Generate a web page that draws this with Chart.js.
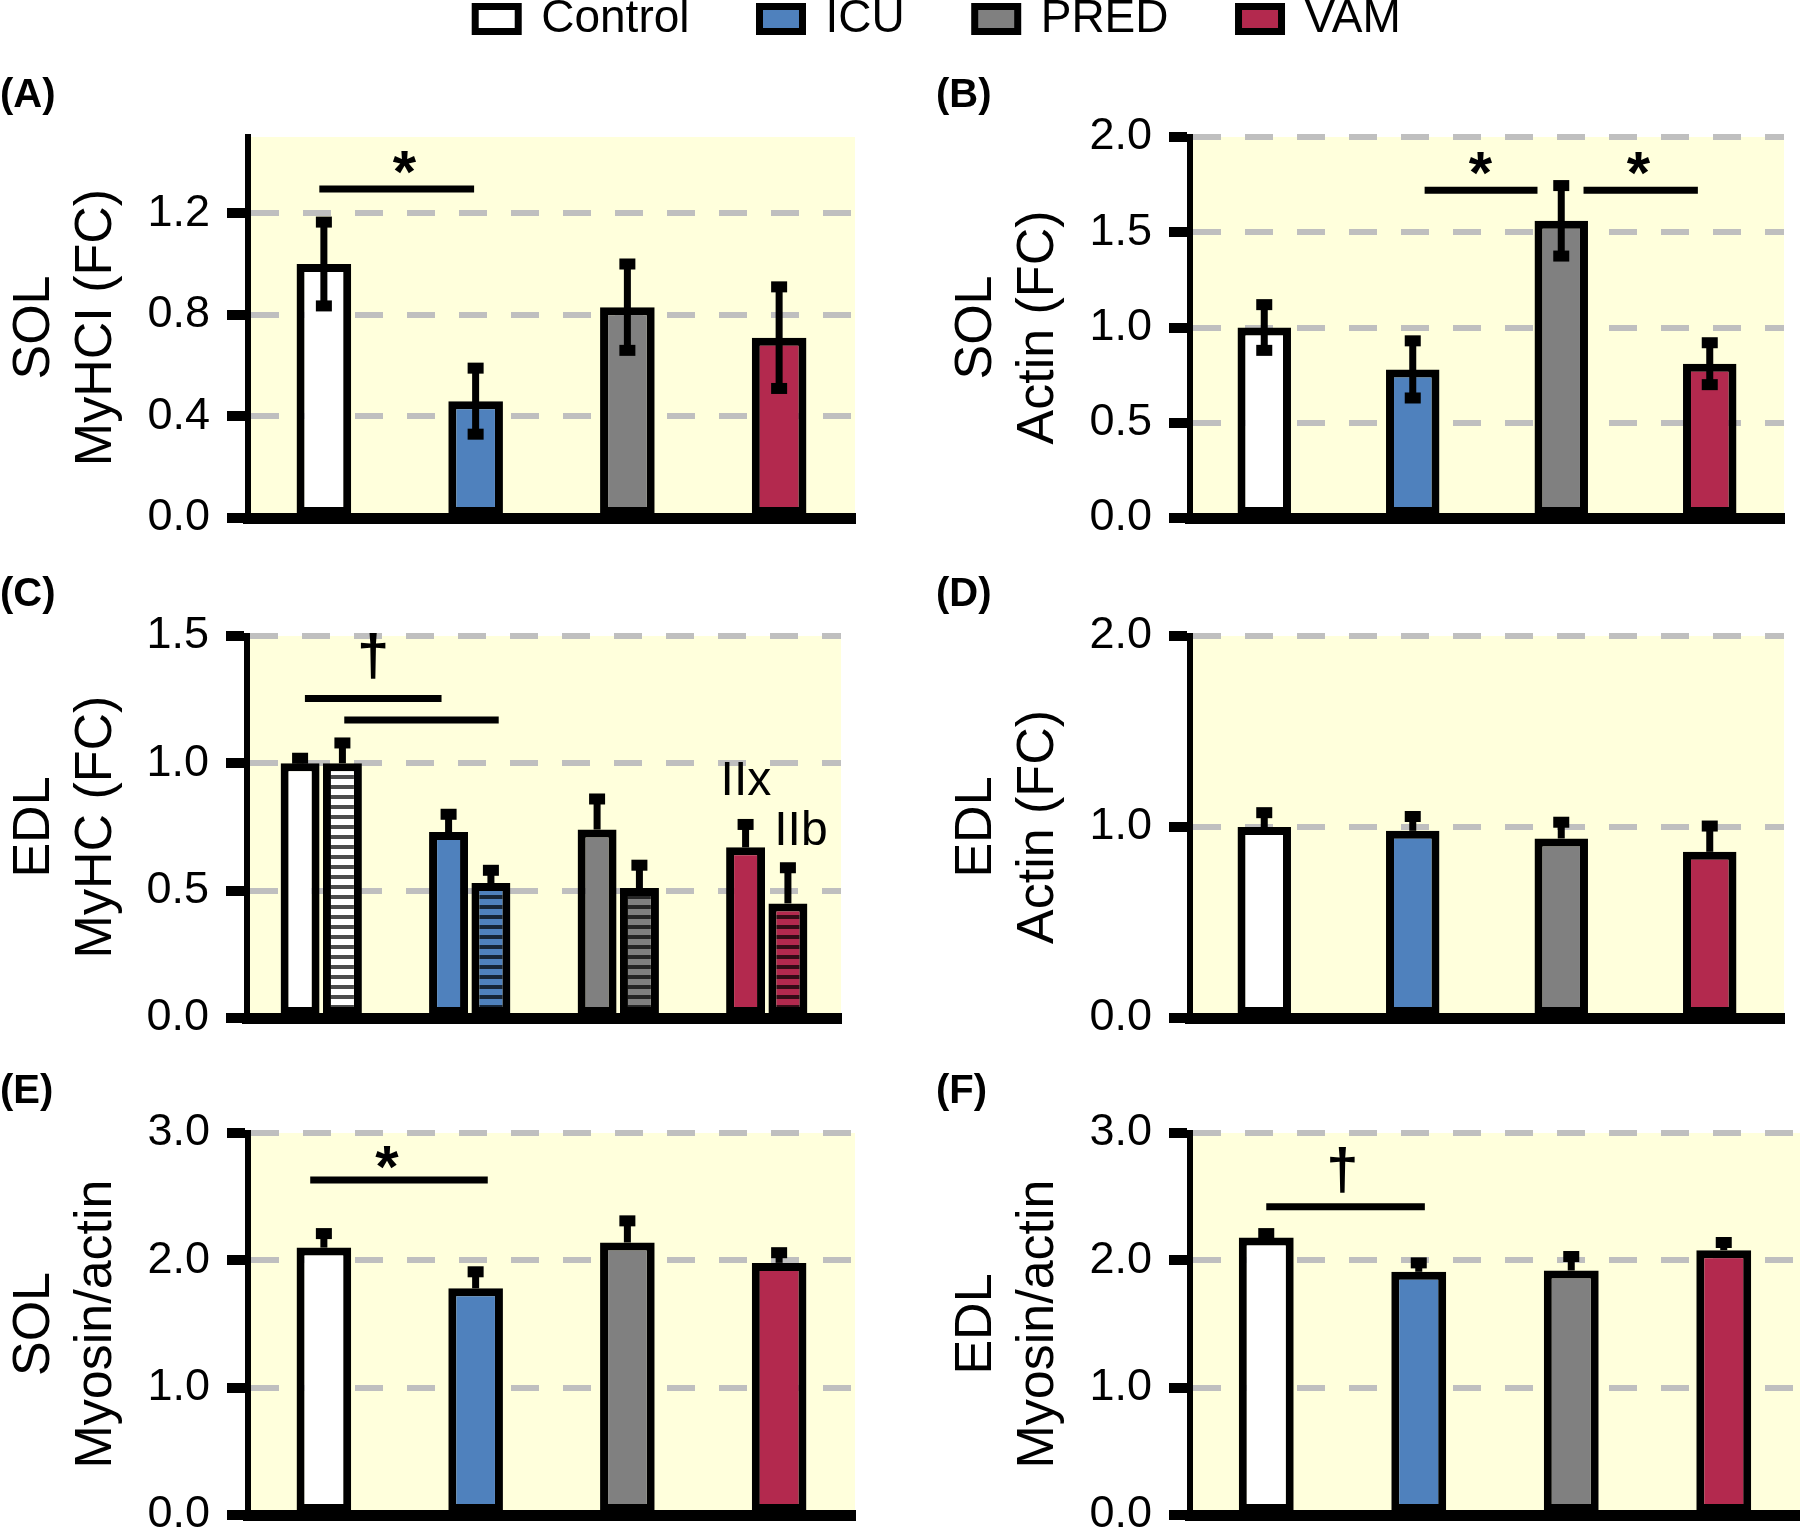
<!DOCTYPE html>
<html>
<head>
<meta charset="utf-8">
<script src="https://cdn.jsdelivr.net/npm/chart.js@4.4.1/dist/chart.umd.min.js"></script>
<style>
  html, body { margin: 0; padding: 0; background: #fff; }
  body { position: relative; width: 1800px; height: 1533px; overflow: hidden; }
  canvas { position: absolute; }
</style>
</head>
<body>
<canvas id="legend" width="1800" height="400" style="left:0;top:-74px"></canvas>
<canvas id="panelA" width="880" height="520" style="left:0;top:60px"></canvas>
<canvas id="panelB" width="864" height="520" style="left:936px;top:60px"></canvas>
<canvas id="panelC" width="880" height="520" style="left:0;top:559px"></canvas>
<canvas id="panelD" width="864" height="520" style="left:936px;top:559px"></canvas>
<canvas id="panelE" width="880" height="520" style="left:0;top:1056px"></canvas>
<canvas id="panelF" width="864" height="520" style="left:936px;top:1056px"></canvas>
<script>
Chart.defaults.font.family = '"Liberation Sans", Arial, sans-serif';
Chart.defaults.color = '#000';

const groups = ['Control', 'ICU', 'PRED', 'VAM'];
const groupColors = ['#FFFFFF', '#4F81BD', '#808080', '#B3294E'];

// (A) SOL MyHC I
const solMyhcMean = [1.00, 0.46, 0.83, 0.71];
const solMyhcErr = [0.165, 0.13, 0.17, 0.20];
const solMyhcTicks = [0, 0.4, 0.8, 1.2];
const solMyhcLines = [{from: -0.03, to: 0.99, at: 1.295}];
const solMyhcMarks = [{text: '*', x: 0.53, at: 1.40}];

// (B) SOL actin
const solActinMean = [1.00, 0.78, 1.56, 0.81];
const solActinErr = [0.12, 0.15, 0.185, 0.11];
const solActinTicks = [0, 0.5, 1.0, 1.5, 2.0];
const solActinLines = [{from: 1.08, to: 1.84, at: 1.72}, {from: 2.15, to: 2.92, at: 1.72}];
const solActinMarks = [{text: '*', x: 1.455, at: 1.86}, {text: '*', x: 2.52, at: 1.86}];

// (C) EDL MyHC IIx / IIb
const edlIIxMean = [1.00, 0.73, 0.74, 0.67];
const edlIIxErr = [0.02, 0.07, 0.12, 0.09];
const edlIIbMean = [1.00, 0.53, 0.51, 0.45];
const edlIIbErr = [0.08, 0.05, 0.09, 0.14];
const edlMyhcTicks = [0, 0.5, 1.0, 1.5];
const edlMyhcLines = [{from: -0.11, to: 0.81, at: 1.255}, {from: 0.155, to: 1.195, at: 1.17}];
const edlMyhcMarks = [{text: '†', x: 0.35, at: 1.42}, {text: 'IIx', x: 2.86, at: 0.94}, {text: 'IIb', x: 3.23, at: 0.75}];

// (D) EDL actin
const edlActinMean = [1.00, 0.98, 0.94, 0.87];
const edlActinErr = [0.075, 0.075, 0.085, 0.135];
const edlActinTicks = [0, 1.0, 2.0];

// (E) SOL myosin/actin
const solRatioMean = [2.10, 1.78, 2.14, 1.98];
const solRatioErr = [0.11, 0.13, 0.17, 0.08];
const ratioTicks = [0, 1.0, 2.0, 3.0];
const solRatioLines = [{from: -0.09, to: 1.08, at: 2.63}];
const solRatioMarks = [{text: '*', x: 0.415, at: 2.81}];

// (F) EDL myosin/actin
const edlRatioMean = [2.18, 1.91, 1.92, 2.08];
const edlRatioErr = [0.03, 0.07, 0.11, 0.06];
const edlRatioLines = [{from: 0.0, to: 1.04, at: 2.42}];
const edlRatioMarks = [{text: '†', x: 0.5, at: 2.71}];

// yellow plot area
const plotBackground = {
  id: 'plotBackground',
  beforeDraw(chart, args, opts) {
    const {ctx, chartArea: a} = chart;
    ctx.save();
    ctx.fillStyle = opts.color;
    ctx.fillRect(a.left, a.top, a.right - a.left, a.bottom - a.top);
    ctx.restore();
  }
};

const errorBars = {
  id: 'errorBars',
  afterDatasetsDraw(chart, args, opts) {
    const ctx = chart.ctx;
    const y = chart.scales.y;
    chart.data.datasets.forEach((ds, d) => {
      if (!ds.errorBars) return;
      chart.getDatasetMeta(d).data.forEach((bar, i) => {
        const v = ds.data[i];
        const e = ds.errorBars[i];
        const top = y.getPixelForValue(v + e);
        const bottom = y.getPixelForValue(opts.both ? v - e : v);
        ctx.save();
        ctx.fillStyle = '#000';
        ctx.fillRect(bar.x - 3.5, top, 7, bottom - top);
        ctx.fillRect(bar.x - 8, top - 5.5, 16, 11);
        if (opts.both) ctx.fillRect(bar.x - 8, bottom - 5.5, 16, 11);
        ctx.restore();
      });
    });
  }
};

const markFonts = {
  '*': 'bold 60px "Liberation Sans", Arial, sans-serif',
  '†': 'bold 58px "Liberation Sans", Arial, sans-serif'
};

const sigMarks = {
  id: 'sigMarks',
  afterDatasetsDraw(chart, args, opts) {
    const {ctx, scales: {x, y}} = chart;
    ctx.save();
    ctx.strokeStyle = '#000';
    ctx.fillStyle = '#000';
    ctx.lineWidth = 7;
    (opts.lines || []).forEach(l => {
      const py = y.getPixelForValue(l.at);
      ctx.beginPath();
      ctx.moveTo(x.getPixelForValue(l.from), py);
      ctx.lineTo(x.getPixelForValue(l.to), py);
      ctx.stroke();
    });
    (opts.marks || []).forEach(m => {
      ctx.font = markFonts[m.text] || '48px "Liberation Sans", Arial, sans-serif';
      ctx.textAlign = 'center';
      ctx.textBaseline = 'alphabetic';
      const tm = ctx.measureText(m.text);
      const cy = y.getPixelForValue(m.at);
      ctx.fillText(m.text, x.getPixelForValue(m.x), cy + (tm.actualBoundingBoxAscent - tm.actualBoundingBoxDescent) / 2);
    });
    ctx.restore();
  }
};

function stripes(color) {
  const c = document.createElement('canvas');
  c.width = 8;
  c.height = 10;
  const g = c.getContext('2d');
  g.fillStyle = color;
  g.fillRect(0, 0, 8, 10);
  g.fillStyle = 'rgba(0,0,0,0.7)';
  g.fillRect(0, 6, 8, 4);
  return g.createPattern(c, 'repeat');
}

function panel(id, cfg) {
  return new Chart(document.getElementById(id), {
    type: 'bar',
    data: {labels: groups, datasets: cfg.datasets},
    options: {
      responsive: false,
      animation: false,
      devicePixelRatio: 1,
      layout: {padding: {left: 0, top: 0, right: cfg.padRight, bottom: cfg.padBottom}},
      datasets: {
        bar: {
          borderColor: '#000',
          borderWidth: 8,
          borderSkipped: false,
          categoryPercentage: cfg.catPct,
          barPercentage: cfg.barPct
        }
      },
      scales: {
        x: {
          z: 1,
          grid: {display: false},
          ticks: {display: false},
          border: {width: 11, color: '#000'},
          afterFit: s => { s.height = 0; }
        },
        y: {
          min: 0,
          max: cfg.max,
          afterFit: s => { s.width = cfg.axisWidth; },
          afterBuildTicks: s => { s.ticks = cfg.ticks.map(v => ({value: v})); },
          ticks: {
            callback: v => v.toFixed(1),
            font: {size: 45},
            color: '#000',
            padding: 17
          },
          grid: {color: '#BFBFBF', lineWidth: 6, tickColor: '#000', tickWidth: 10, tickLength: 21},
          border: {width: 6, color: '#000', dash: [28, 24]},
          title: {
            display: true,
            text: cfg.yTitle,
            font: {size: 52, lineHeight: 1.2},
            color: '#000',
            padding: {top: cfg.titlePad, bottom: 0}
          }
        }
      },
      plugins: {
        legend: {display: false},
        tooltip: {enabled: false},
        title: {
          display: true,
          text: cfg.label,
          align: 'start',
          font: {size: 40, weight: 'bold', lineHeight: 1.2},
          color: '#000',
          padding: {top: 12, bottom: 17}
        },
        plotBackground: {color: '#FFFFDC'},
        errorBars: {both: cfg.both},
        sigMarks: {lines: cfg.lines, marks: cfg.marks}
      }
    },
    plugins: [plotBackground, errorBars, sigMarks]
  });
}

function single(mean, err) {
  return [{data: mean, errorBars: err, backgroundColor: groupColors}];
}

// legend row on top
new Chart(document.getElementById('legend'), {
  type: 'bar',
  data: {
    labels: [],
    datasets: groups.map((g, i) => ({label: g, data: [], backgroundColor: groupColors[i], borderColor: '#000', borderWidth: 7}))
  },
  options: {
    responsive: false,
    animation: false,
    devicePixelRatio: 1,
    layout: {padding: {left: 76}},
    scales: {x: {display: false}, y: {display: false}},
    plugins: {
      tooltip: {enabled: false},
      legend: {
        position: 'top',
        maxHeight: 300,
        labels: {boxWidth: 43, boxHeight: 25, padding: 70, color: '#000', font: {size: 46}}
      }
    }
  }
});

panel('panelA', {
  label: '(A)', yTitle: ['SOL', 'MyHCI (FC)'], titlePad: 3, axisWidth: 248,
  padRight: 25, padBottom: 62, max: 1.5, ticks: solMyhcTicks,
  catPct: 1, barPct: 0.36, both: true,
  datasets: single(solMyhcMean, solMyhcErr),
  lines: solMyhcLines, marks: solMyhcMarks
});

panel('panelB', {
  label: '(B)', yTitle: ['SOL', 'Actin (FC)'], titlePad: 9, axisWidth: 254,
  padRight: 16, padBottom: 62, max: 2.0, ticks: solActinTicks,
  catPct: 1, barPct: 0.36, both: true,
  datasets: single(solActinMean, solActinErr),
  lines: solActinLines, marks: solActinMarks
});

panel('panelC', {
  label: '(C)', yTitle: ['EDL', 'MyHC (FC)'], titlePad: 3, axisWidth: 247,
  padRight: 39, padBottom: 61, max: 1.5, ticks: edlMyhcTicks,
  catPct: 0.57, barPct: 0.92, both: false,
  datasets: [
    {data: edlIIxMean, errorBars: edlIIxErr, backgroundColor: groupColors},
    {data: edlIIbMean, errorBars: edlIIbErr, backgroundColor: groupColors.map(stripes)}
  ],
  lines: edlMyhcLines, marks: edlMyhcMarks
});

panel('panelD', {
  label: '(D)', yTitle: ['EDL', 'Actin (FC)'], titlePad: 9, axisWidth: 254,
  padRight: 16, padBottom: 61, max: 2.0, ticks: edlActinTicks,
  catPct: 1, barPct: 0.36, both: false,
  datasets: single(edlActinMean, edlActinErr),
  lines: [], marks: []
});

panel('panelE', {
  label: '(E)', yTitle: ['SOL', 'Myosin/actin'], titlePad: 3, axisWidth: 248,
  padRight: 25, padBottom: 61, max: 3.0, ticks: ratioTicks,
  catPct: 1, barPct: 0.36, both: false,
  datasets: single(solRatioMean, solRatioErr),
  lines: solRatioLines, marks: solRatioMarks
});

panel('panelF', {
  label: '(F)', yTitle: ['EDL', 'Myosin/actin'], titlePad: 9, axisWidth: 254,
  padRight: 0, padBottom: 61, max: 3.0, ticks: ratioTicks,
  catPct: 1, barPct: 0.36, both: false,
  datasets: single(edlRatioMean, edlRatioErr),
  lines: edlRatioLines, marks: edlRatioMarks
});
</script>
</body>
</html>
